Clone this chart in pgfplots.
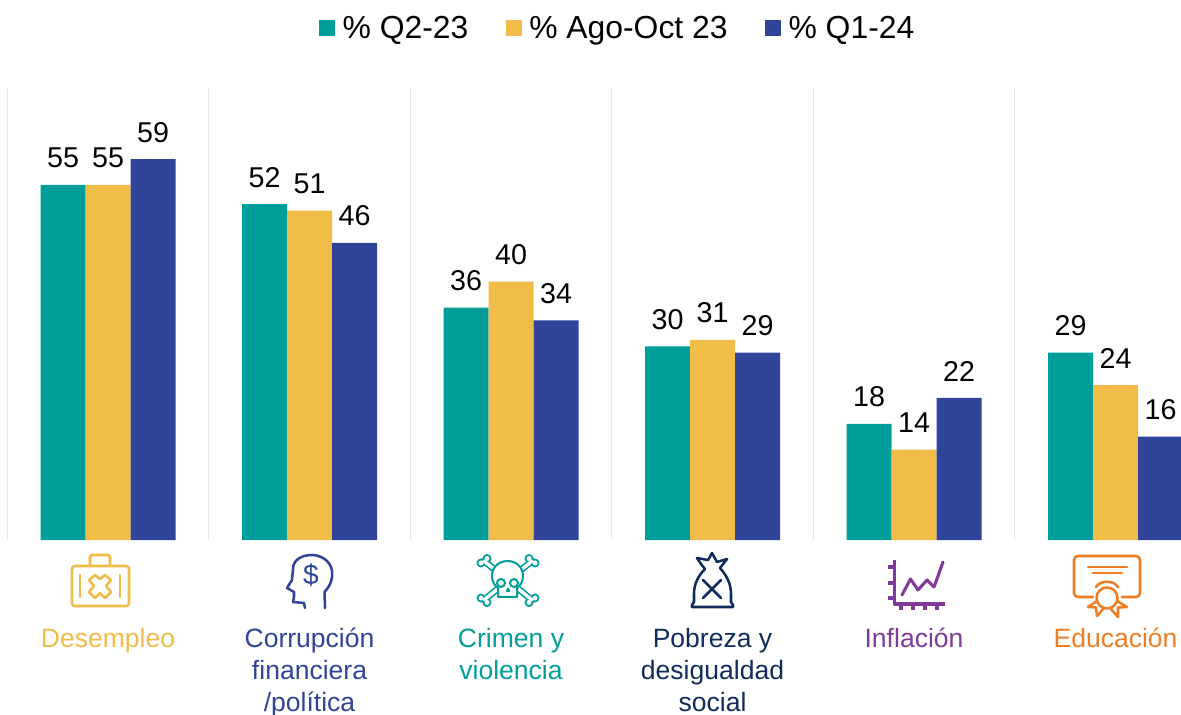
\documentclass[border=0pt]{standalone}
\usepackage{pgfplots}
\pgfplotsset{compat=1.18}
\usepackage{fontspec}
\setmainfont{Liberation Sans}
\definecolor{cteal}{HTML}{009E9A}
\definecolor{cyellow}{HTML}{F1BC48}
\definecolor{cblue}{HTML}{30449A}
\definecolor{cnavy}{HTML}{0F2C5C}
\definecolor{cpurple}{HTML}{7F3A9B}
\definecolor{corange}{HTML}{EE7D23}
\begin{document}
\begin{tikzpicture}
  \path[use as bounding box] (0,0) rectangle (885.75pt,535.5pt);
  \begin{axis}[
    at={(0pt,130.5pt)}, anchor=south west,
    scale only axis, width=885.75pt, height=339pt,
    ybar=0pt, bar width=33.75pt,
    xmin=-0.536, xmax=5.325, ymin=0, ymax=70,
    axis line style={draw=none},
    major tick length=0pt, minor tick length=0pt,
    ytick=\empty,
    xtick={0,1,2,3,4,5},
    minor xtick={-0.5,0.5,1.5,2.5,3.5,4.5},
    xminorgrids, minor grid style={color=black!9, line width=0.6pt},
    xticklabels={
      {\color{cyellow}Desempleo},
      {\color{cblue}Corrupción\\\color{cblue}financiera\\\color{cblue}/política},
      {\color{cteal}Crimen y\\\color{cteal}violencia},
      {\color{cnavy}Pobreza y\\\color{cnavy}desigualdad\\\color{cnavy}social},
      {\color{cpurple}Inflación},
      {\color{corange}Educación}},
    xticklabel style={align=center, anchor=north, yshift=-62.6pt,
      font=\fontsize{19.9}{24}\selectfont},
    /pgf/number format/assume math mode=true,
    nodes near coords,
    nodes near coords style={font=\fontsize{21.5}{24}\selectfont, text=black, yshift=9pt},
    legend columns=3,
    legend style={at={(463.5pt,384pt)}, anchor=center, draw=none, fill=none,
      font=\fontsize{23.9}{26}\selectfont,
      /tikz/every even column/.append style={column sep=26pt}},
    legend image code/.code={\fill[#1] (0pt,-6pt) rectangle (12pt,6pt);},
  ]
  \addplot[fill=cteal, draw=none] coordinates {(0,55) (1,52) (2,36) (3,30) (4,18) (5,29)};
  \addplot[fill=cyellow, draw=none] coordinates {(0,55) (1,51) (2,40) (3,31) (4,14) (5,24)};
  \addplot[fill=cblue, draw=none] coordinates {(0,59) (1,46) (2,34) (3,29) (4,22) (5,16)};
  \addlegendentry{\hspace{3.7pt}\% Q2-23}
  \addlegendentry{\hspace{3.7pt}\% Ago-Oct 23}
  \addlegendentry{\hspace{3.7pt}\% Q1-24}
  \end{axis}
  % iconos, en pixeles de la imagen
  \begin{scope}[x=0.75pt, y=-0.75pt, yshift=535.5pt, line width=1.9pt, line join=round, line cap=round]
    % maletin
    \draw[cyellow, rounded corners=2pt] (72,566) rectangle (129,606);
    \draw[cyellow] (90,566) -- (90,557) -- (92,555) -- (108,555) -- (110,557) -- (110,566);
    \draw[cyellow] (80,575) -- (80,597) (120,575) -- (120,597);
    \draw[cyellow] (95,575) -- (100,579) -- (105,575) -- (111,580) -- (106,586) -- (111,592)
      -- (105,598) -- (100,593) -- (95,598) -- (89,592) -- (94,586) -- (89,580) -- cycle;
    % cabeza
    \draw[cblue] (325,608) -- (324.5,592) .. controls (331,585) and (333,578) .. (332,571)
      .. controls (331,562) and (322,555) .. (312,555)
      .. controls (300,555) and (293,561) .. (293,569) -- (292,580) -- (287,588) -- (294,592)
      -- (294,597) -- (293,602) -- (304,603) -- (305,608);
    \node[cblue, font=\fontsize{21}{21}\selectfont, inner sep=0pt] at (311,575) {\$};
    % calavera
    \begin{scope}[cteal]
      \foreach \a/\b/\c/\d in {484/561/532/600, 532/561/484/600}{
        \draw[line width=5pt] (\a,\b) -- (\c,\d);
        \draw[white, line width=2.4pt] (\a,\b) -- (\c,\d);
      }
      \foreach \p/\q in {481/563,487/558.5,529/558.5,535/563,481/598,487/602.5,529/602.5,535/598}{
        \fill[white, draw=cteal, line width=1.3pt] (\p,\q) circle[radius=3.6];
      }
      \foreach \a/\b/\c/\d in {484/561/532/600, 532/561/484/600}{
        \draw[white, line width=2.4pt] (\a,\b) -- (\c,\d);
      }
      \fill[white, draw=cteal, line width=1.5pt] (507.5,561) .. controls (517,561) and (523,568) .. (523,576)
        .. controls (523,582) and (520,586) .. (517,588) -- (517,597) -- (498,597) -- (498,588)
        .. controls (495,586) and (492,582) .. (492,576)
        .. controls (492,568) and (498,561) .. (507.5,561) -- cycle;
      \draw[line width=1.5pt] (501,583) circle[radius=4] (514,583) circle[radius=4];
      \draw[line width=1.2pt] (506.5,591) -- (508,588.5) -- (509.5,591) -- cycle;
    \end{scope}
    % bolsa
    \draw[cnavy] (705,569) .. controls (698,576) and (694,584) .. (694,594) -- (694,602) -- (692,605)
      -- (692,607) -- (733,607) -- (733,605) -- (731,602) -- (731,594)
      .. controls (731,584) and (727,576) .. (720,568)
      -- (727,559) -- (717,562) -- (712,553) -- (708,560) -- (697,558) -- (701,564) -- cycle;
    \draw[cnavy] (703,580) -- (721,598) (721,580) -- (703,598);
    % inflacion
    \draw[cpurple, line width=2.3pt, line cap=butt] (894.5,560) -- (894.5,604) -- (945,604);
    \draw[cpurple, line width=2.3pt, line cap=butt] (888,567) -- (894.5,567) (888,583) -- (894.5,583)
      (888,598) -- (894.5,598) (901,604) -- (901,610) (913,604) -- (913,610)
      (925,604) -- (925,610) (937,604) -- (937,610);
    \draw[cpurple, line width=2.3pt] (902,595) -- (910.5,579) -- (918,590) -- (927,580) -- (934,587) -- (943,562);
    % diploma
    \draw[corange, rounded corners=3pt] (1093,597) -- (1074,597) -- (1074,556) -- (1140,556) -- (1140,597) -- (1122,597);
    \draw[corange] (1088,567) -- (1127,567) (1093,573) -- (1122,573);
    \draw[corange] (1107,598) circle[radius=10.5];
    \draw[corange] (1096,587) .. controls (1100,580) and (1114,580) .. (1118,587);
    \draw[corange] (1097,601) -- (1088,607) -- (1096,607.5) -- (1097,616) -- (1104,608)
      (1117,601) -- (1127,607) -- (1118,607.5) -- (1118,617) -- (1110,608);
  \end{scope}
\end{tikzpicture}
\end{document}
